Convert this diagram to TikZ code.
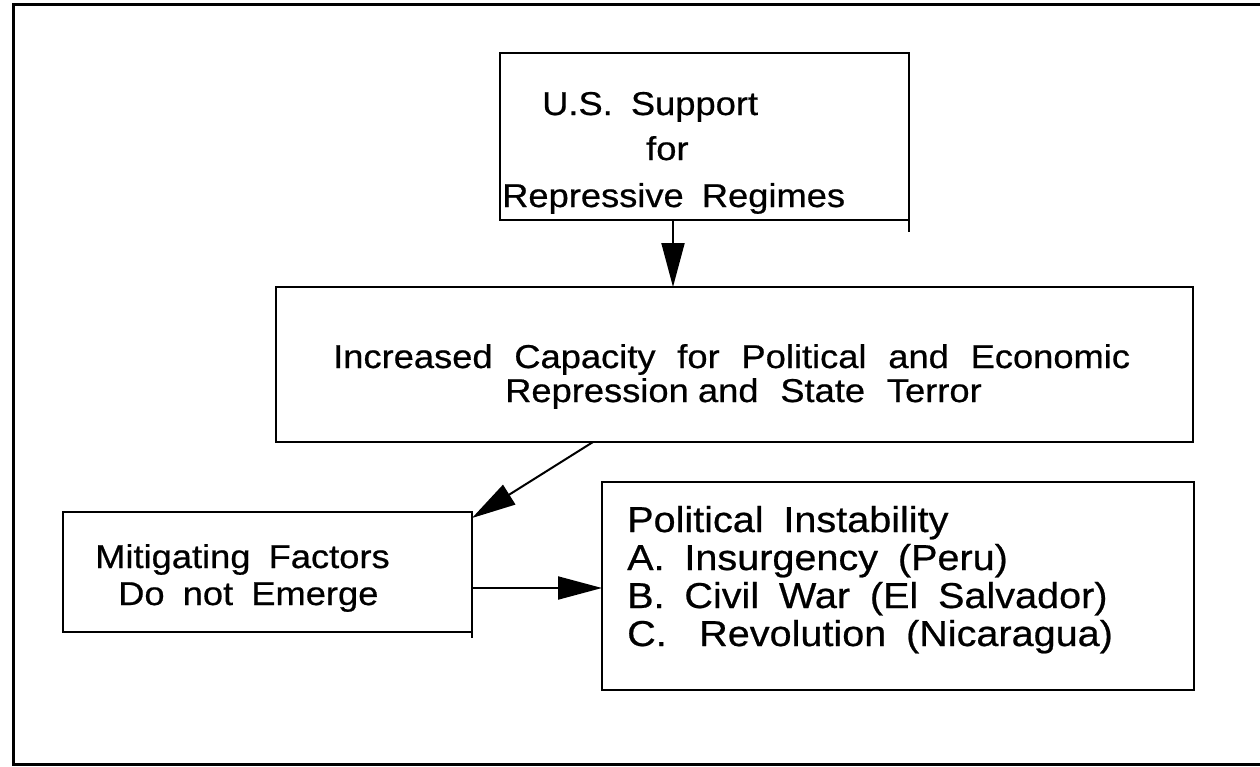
\documentclass[tikz,border=0pt]{standalone}
\usepackage{fontspec}
\setmainfont{Liberation Sans}[FakeStretch=1.1,FakeBold=0.6]
\usetikzlibrary{arrows.meta,calc}
\newcommand\wsp{\spaceskip=0.55em\relax}
\newcommand\wspw{\spaceskip=0.66em\relax}
\tikzset{
  box/.style={draw, line width=2pt, rectangle, inner sep=0pt, outer sep=0pt},
  txt/.style={anchor=base west, inner sep=0pt, font=\fontsize{33}{40}\selectfont},
  txtl/.style={anchor=base west, inner sep=0pt, font=\fontsize{36}{40}\selectfont},
  arr/.style={line width=2pt, -{Triangle[length=44pt,width=23pt]}},
  frame/.style={line width=3pt}
}
\begin{document}
\begin{tikzpicture}[x=1pt,y=-1pt]
\useasboundingbox (0,0) rectangle (1260,766);
% outer frame (open on the right)
\coordinate (f1) at (1260,4);
\coordinate (f2) at (13,4);
\coordinate (f3) at (13,764);
\coordinate (f4) at (1260,764);
\draw[frame] (f1) -- (f2) -- (f3) -- (f4);
% boxes
\node[box, minimum width=409pt, minimum height=167pt] (top) at (704.5,136.5) {};
\node[box, minimum width=917pt, minimum height=155pt] (mid) at (734.5,364.5) {};
\node[box, minimum width=409pt, minimum height=120pt] (left) at (267.5,572) {};
\node[box, minimum width=592pt, minimum height=208pt] (right) at (898,586) {};
% small overshoots of box edges
\draw[line width=2pt] (top.south east) -- ([yshift=-12pt]top.south east);
\draw[line width=2pt] (left.south east) -- ([yshift=-6pt]left.south east);
% texts
\node[txt] (t1) at (542,115) {\wsp U.S. Support};
\node[txt] (t2) at (646,160) {\wsp for};
\node[txt] (t3) at (502,207) {\wsp Repressive Regimes};
\node[txt] (m1) at (333,368) {\wspw Increased Capacity for Political and Economic};
\node[txt] (m2) at (505,402) {\wspw Repression\hspace{0.28em}and State Terror};
\node[txt] (l1) at (95,568) {\wsp Mitigating Factors};
\node[txt] (l2) at (118,605) {\wsp Do not Emerge};
\node[txtl] (r1) at (627,532) {\wsp Political Instability};
\node[txtl] (r2) at (627,570) {\wsp A. Insurgency (Peru)};
\node[txtl] (r3) at (627,608) {\wsp B. Civil War (El Salvador)};
\node[txtl] (r4) at (627,646) {\wsp C.\hspace{0.9em}Revolution (Nicaragua)};
% connectors
\draw[arr] ([xshift=-31.5pt]top.south) -- ([xshift=-31.5pt]top.south |- mid.north);
\draw[arr] ([xshift=-141.5pt]mid.south) -- ([yshift=-6pt]left.north east);
\draw[arr] ([yshift=-16pt]left.east) -- ([yshift=-16pt]left.east -| right.west);
\end{tikzpicture}
\end{document}
